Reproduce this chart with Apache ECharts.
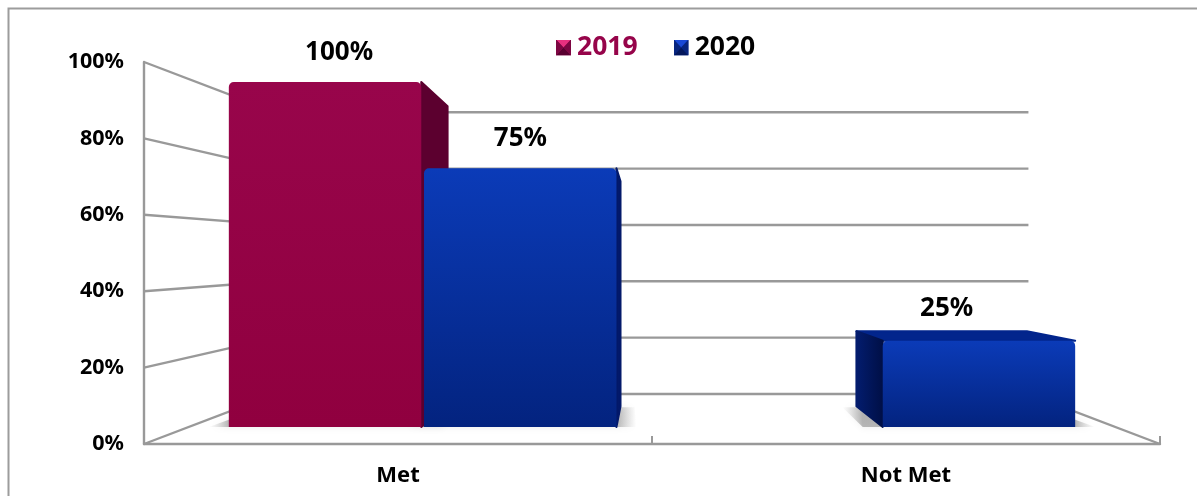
<!DOCTYPE html>
<html>
<head>
<meta charset="utf-8">
<style>html,body{margin:0;padding:0;background:#fff}#chart{width:1197px;height:496px}</style>
<script src="https://cdn.jsdelivr.net/npm/echarts@6/dist/echarts.min.js"></script>
</head>
<body>
<div id="chart"></div>
<script>
// Chart data
const categories = ['Met', 'Not Met'];
const values2019 = [100, null];
const values2020 = [75, 25];
const valueTicks = [0, 20, 40, 60, 80, 100];

// Style
const FONT = '"Noto Sans", sans-serif';
const GRID_LINE = '#999999';
const CRIMSON = { front: ['#98054b', '#90003f'], side: '#5c002f', top: '#6e0038', text: '#96044a' };
const COBALT = { front: ['#0b3bb8', '#03237f'], side: '#03196a', sideFar: ['#031c6e', '#000f46'], top: '#02258c', text: '#000000' };

// Depth planes of the pseudo-3D box: each one scales the axis plane about a
// vanishing point given as a fraction of the grid width and an axis value.
const PLANE_WALL = { sx: 0.741, sy: 0.7375, fx: 0.5, v0: 49.9 };
const PLANE_BAR_FRONT = { sx: 0.903, sy: 0.903, fx: 0.5, v0: 46 };
const PLANE_BAR_BACK = { sx: 0.8, sy: 0.785, fx: 0.5, v0: 46 };
const PLANE_LABEL = { sx: 0.839, sy: 0.8935, fx: 0.444, v0: 122 };
const BAR_SPAN = 0.4225;
const BAR_GAP = 0.003;

function project(api, cs, plane, x, y) {
  const ox = cs.x + cs.width * plane.fx;
  const oy = api.coord([0, plane.v0])[1];
  return [ox + (x - ox) * plane.sx, oy + (y - oy) * plane.sy];
}

// Side walls, back wall and floor edges
function renderWalls(params, api) {
  const cs = params.coordSys;
  const v = api.value(0);
  const y = api.coord([0, v])[1];
  const left = cs.x, right = cs.x + cs.width;
  const a = project(api, cs, PLANE_WALL, left, y);
  const b = project(api, cs, PLANE_WALL, right, y);
  const style = { stroke: GRID_LINE, lineWidth: 2.4, fill: null };
  const children = [
    { type: 'line', shape: { x1: left, y1: y, x2: a[0], y2: a[1] }, style },
    { type: 'line', shape: { x1: a[0], y1: a[1], x2: b[0], y2: b[1] }, style }
  ];
  if (v === 0) {
    children.push({ type: 'line', shape: { x1: right, y1: y, x2: b[0], y2: b[1] }, style });
  }
  return { type: 'group', children };
}

function barBox(params, api, seriesPos) {
  const cs = params.coordSys;
  const cat = api.value(0), val = api.value(1);
  const top = api.coord([cat, val]);
  const base = api.coord([cat, 0]);
  const band = api.size([1, 0])[0];
  const x0 = seriesPos === 0 ? top[0] - BAR_SPAN * band : top[0] + BAR_GAP * band;
  const x1 = seriesPos === 0 ? top[0] - BAR_GAP * band : top[0] + BAR_SPAN * band;
  const p = (pl, x, y) => project(api, cs, pl, x, y);
  return {
    ftl: p(PLANE_BAR_FRONT, x0, top[1]), ftr: p(PLANE_BAR_FRONT, x1, top[1]),
    fbl: p(PLANE_BAR_FRONT, x0, base[1]), fbr: p(PLANE_BAR_FRONT, x1, base[1]),
    btl: p(PLANE_BAR_BACK, x0, top[1]), btr: p(PLANE_BAR_BACK, x1, top[1]),
    bbl: p(PLANE_BAR_BACK, x0, base[1]), bbr: p(PLANE_BAR_BACK, x1, base[1]),
    label: p(PLANE_LABEL, (x0 + x1) / 2, top[1])
  };
}

// Soft shadow cast on the floor, fading away from the bar
function shadowRenderer(seriesPos) {
  return function (params, api) {
    const b = barBox(params, api, seriesPos);
    const spreadFar = 14, spreadNear = 20;
    const pts = [
      [b.bbl[0] - spreadFar, b.bbl[1] + 1], [b.bbr[0] + spreadFar, b.bbr[1] + 1],
      [b.fbr[0] + spreadNear, b.fbr[1]], [b.fbl[0] - spreadNear, b.fbl[1]]
    ];
    const minX = Math.min(pts[0][0], pts[3][0]);
    const maxX = Math.max(pts[1][0], pts[2][0]);
    const w = maxX - minX;
    const dark = 'rgba(130,130,130,0.55)', clear = 'rgba(170,170,170,0)';
    return {
      type: 'polygon',
      shape: { points: pts },
      style: {
        shadowBlur: 7,
        shadowColor: 'rgba(150,150,150,0.35)',
        fill: new echarts.graphic.LinearGradient(minX, 0, maxX, 0, [
          { offset: 0, color: clear },
          { offset: spreadNear / w, color: dark },
          { offset: 1 - spreadNear / w, color: dark },
          { offset: 1, color: clear }
        ], true)
      }
    };
  };
}

function barRenderer(seriesPos, palette) {
  return function (params, api) {
    const b = barBox(params, api, seriesPos);
    const edge = (fill) => ({ fill, stroke: fill, lineWidth: 2, lineJoin: 'round' });
    const far = palette.sideFar
      ? new echarts.graphic.LinearGradient(b.btl[0], 0, b.ftl[0], 0, [
          { offset: 0, color: palette.sideFar[0] },
          { offset: 1, color: palette.sideFar[1] }
        ], true)
      : palette.side;
    const children = [];
    // Only the faces turned towards the viewer are drawn
    if (b.btl[1] < b.ftl[1]) {
      children.push({ type: 'polygon', shape: { points: [b.ftl, b.ftr, b.btr, b.btl] }, style: edge(palette.top) });
    }
    if (b.btr[0] > b.ftr[0]) {
      children.push({ type: 'polygon', shape: { points: [b.ftr, b.btr, b.bbr, b.fbr] }, style: edge(palette.side) });
    }
    if (b.btl[0] < b.ftl[0]) {
      children.push({ type: 'polygon', shape: { points: [b.ftl, b.btl, b.bbl, b.fbl] }, style: edge(far) });
    }
    children.push({
      type: 'rect',
      shape: { x: b.ftl[0], y: b.ftl[1], width: b.ftr[0] - b.ftl[0], height: b.fbl[1] - b.ftl[1], r: [5, 5, 0, 0] },
      style: {
        fill: new echarts.graphic.LinearGradient(0, 0, 0, 1, [
          { offset: 0, color: palette.front[0] },
          { offset: 1, color: palette.front[1] }
        ])
      }
    }, {
      type: 'text',
      style: {
        x: b.label[0], y: b.label[1],
        text: api.value(1) + '%',
        font: 'bold 26px ' + FONT,
        fill: '#000',
        align: 'center', verticalAlign: 'middle'
      },
      z2: 10
    });
    return { type: 'group', children };
  };
}

// Small bevelled swatch for the legend
function swatch(light, mid, dark, deep) {
  const svg = '<svg xmlns="http://www.w3.org/2000/svg" width="15" height="16" viewBox="0 0 15 16">' +
    '<rect width="15" height="16" fill="' + mid + '"/>' +
    '<polygon points="0,0 15,0 7.5,8" fill="' + light + '"/>' +
    '<polygon points="0,16 15,16 7.5,8" fill="' + deep + '"/>' +
    '<polygon points="0,0 7.5,8 0,16" fill="' + dark + '"/>' +
    '<polygon points="15,0 7.5,8 15,16" fill="' + dark + '"/></svg>';
  return 'image://data:image/svg+xml;utf8,' + encodeURIComponent(svg);
}

const toRows = (vals) => vals.map((v, i) => [i, v]).filter((r) => r[1] !== null);

const chart = echarts.init(document.getElementById('chart'), null, { renderer: 'canvas' });
chart.setOption({
  animation: false,
  backgroundColor: '#ffffff',
  grid: { left: 144, top: 62, width: 1016, height: 382, containLabel: false },
  legend: {
    left: 551, top: 29, itemWidth: 15, itemHeight: 16, itemGap: 36,
    selectedMode: false,
    textStyle: { fontFamily: FONT, fontWeight: 'bold', fontSize: 26.5, padding: [0, 0, 0, 1] },
    data: [
      { name: '2019', icon: swatch('#e8307f', '#9a0a52', '#7d0642', '#5a0030'), textStyle: { color: CRIMSON.text } },
      { name: '2020', icon: swatch('#1a49d6', '#0a2f9c', '#08257e', '#03175c'), textStyle: { color: COBALT.text } }
    ]
  },
  xAxis: {
    type: 'category',
    data: categories,
    axisLine: { lineStyle: { color: GRID_LINE, width: 2.4 } },
    axisTick: { show: true, inside: true, length: 8, lineStyle: { color: GRID_LINE, width: 2 } },
    axisLabel: { color: '#000', fontFamily: FONT, fontWeight: 'bold', fontSize: 22, margin: 21 }
  },
  yAxis: {
    type: 'value', min: 0, max: 100, interval: 20,
    splitLine: { show: false },
    axisTick: { show: false },
    axisLine: { show: true, lineStyle: { color: GRID_LINE, width: 2.4 } },
    axisLabel: { color: '#000', fontFamily: FONT, fontWeight: 'bold', fontSize: 21.5, margin: 20, padding: [2, 0, 0, 0], formatter: '{value}%' }
  },
  graphic: [
    // Panel outline, open on the right and at the bottom
    { type: 'polyline', silent: true, shape: { points: [[8.5, 496], [8.5, 8.5], [1197, 8.5]] }, style: { stroke: '#9c9c9c', lineWidth: 2, fill: null } }
  ],
  series: [
    { name: 'walls', type: 'custom', coordinateSystem: 'cartesian2d', silent: true, clip: false, z: 1,
      renderItem: renderWalls, encode: { y: 0 }, data: valueTicks.map((v) => [v]) },
    { name: 'shadow2019', type: 'custom', coordinateSystem: 'cartesian2d', silent: true, clip: false, z: 2,
      renderItem: shadowRenderer(0), encode: { x: 0, y: 1 }, data: toRows(values2019) },
    { name: 'shadow2020', type: 'custom', coordinateSystem: 'cartesian2d', silent: true, clip: false, z: 2,
      renderItem: shadowRenderer(1), encode: { x: 0, y: 1 }, data: toRows(values2020) },
    { name: '2019', type: 'custom', coordinateSystem: 'cartesian2d', clip: false, z: 3,
      itemStyle: { color: CRIMSON.text },
      renderItem: barRenderer(0, CRIMSON), encode: { x: 0, y: 1 }, data: toRows(values2019) },
    { name: '2020', type: 'custom', coordinateSystem: 'cartesian2d', clip: false, z: 4,
      itemStyle: { color: '#0a2f9c' },
      renderItem: barRenderer(1, COBALT), encode: { x: 0, y: 1 }, data: toRows(values2020) }
  ]
});
</script>
</body>
</html>
